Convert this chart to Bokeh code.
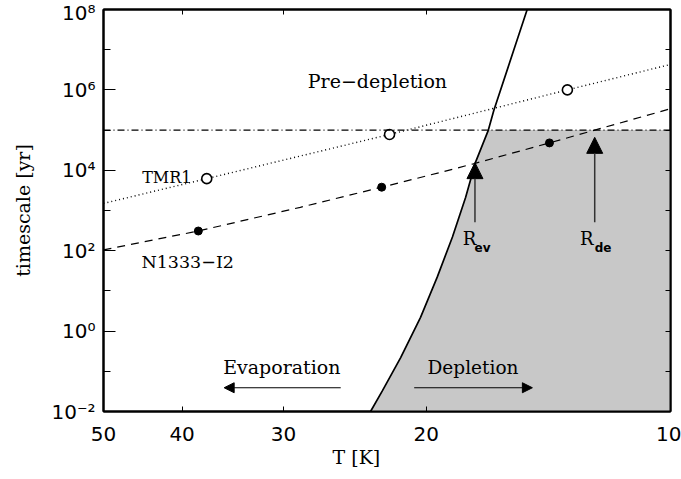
from bokeh.plotting import figure
from bokeh.models import (Range1d, FixedTicker, LogAxis, CustomJSTickFormatter, Span,
                          Arrow, NormalHead, Title)
from bokeh.core.properties import value
from bokeh.embed import file_html
from bokeh.resources import INLINE

# ---------------- data ----------------
# evaporation timescale curve (solid)
T_evap = [23.43, 22.65, 21.51, 20.33, 19.39, 18.57, 17.89, 17.39, 16.77, 16.51, 15.61, 15.02]
t_evap = [1e-2, 0.033, 0.22, 2.2, 22, 220, 2.1e3, 1.6e4, 1e5, 3.1e5, 9.5e6, 1e8]

# TMR1 (dotted line + open circles)
T_tmr1_line = [50, 37.3, 22.2, 13.4, 10]
t_tmr1_line = [1.5e3, 6.2e3, 7.8e4, 1.0e6, 4.3e6]
T_tmr1_obs = [37.3, 22.2, 13.4]
t_tmr1_obs = [6.2e3, 7.8e4, 1.0e6]

# N1333-I2 (dashed line + filled dots)
T_n1333_line = [50, 38.2, 28.6, 22.7, 19.2, 17.5, 14.1, 12.4, 10]
t_n1333_line = [105, 309, 1.2e3, 3.8e3, 8.9e3, 1.45e4, 4.8e4, 1e5, 3.4e5]
T_n1333_obs = [38.2, 22.7, 14.1]
t_n1333_obs = [309, 3.8e3, 4.8e4]

# depletion timescale limit (dash-dot)
t_depletion = 1e5

# radii markers
R_ev_T, R_ev_tip = 17.42, 1.55e4
R_de_T, R_de_tip = 12.4, 6.6e4
R_base = 5.1e2

# axes
T_min, T_max = 10, 50
t_min, t_max = 1e-2, 1e8
x_ticks = [50, 40, 30, 20, 10]
y_ticks = [1e-2, 1, 1e2, 1e4, 1e6, 1e8]
y_minor = [1e-1, 1e1, 1e3, 1e5, 1e7]

SERIF = "DejaVu Serif"
SANS = "DejaVu Sans"

p = figure(width=681, height=479, x_axis_type="log", y_axis_type="log",
           x_range=Range1d(T_max, T_min), y_range=Range1d(t_min, t_max),
           output_backend="svg", toolbar_location=None,
           min_border_left=103, min_border_right=11, min_border_top=9, min_border_bottom=68)
p.background_fill_color = "white"
p.border_fill_color = "white"
p.outline_line_color = "black"
p.outline_line_width = 2
p.xgrid.visible = False
p.ygrid.visible = False

# shaded depletion region
shade_T = [T for T, t in zip(T_evap, t_evap) if t <= t_depletion] + [T_min, T_min]
shade_t = [t for t in t_evap if t <= t_depletion] + [t_depletion, t_min]
p.patch(shade_T, shade_t, fill_color="#c8c8c8", line_color=None)

# axes styling
xfmt = CustomJSTickFormatter(code="return Math.round(tick).toString();")
yfmt = CustomJSTickFormatter(code="""
const sup = {"-":"\u207b","0":"\u2070","1":"\u00b9","2":"\u00b2","3":"\u00b3","4":"\u2074",
             "5":"\u2075","6":"\u2076","7":"\u2077","8":"\u2078","9":"\u2079"};
const e = Math.round(Math.log10(tick)).toString();
return "10" + e.split("").map(c => sup[c]).join("");
""")

xa = p.xaxis[0]
xa.ticker = FixedTicker(ticks=x_ticks, minor_ticks=[])
xa.formatter = xfmt
xa.major_tick_in = 5
xa.major_tick_out = 0
xa.minor_tick_line_color = None
xa.axis_line_width = 2
xa.major_label_standoff = 15
xa.major_label_text_font = SANS
xa.major_label_text_font_size = "20px"
xa.major_label_text_color = "black"

ya = p.yaxis[0]
ya.ticker = FixedTicker(ticks=y_ticks, minor_ticks=y_minor)
ya.formatter = yfmt
ya.major_tick_in = 12
ya.major_tick_out = 0
ya.minor_tick_in = 7
ya.minor_tick_out = 0
ya.axis_line_width = 2
ya.major_label_standoff = 8
ya.major_label_text_font = SANS
ya.major_label_text_font_size = "20px"
ya.major_label_text_color = "black"
ya.axis_label = "timescale [yr]"
ya.axis_label_text_font = SERIF
ya.axis_label_text_font_size = "19px"
ya.axis_label_text_font_style = "normal"
ya.axis_label_text_color = "black"
ya.axis_label_standoff = 14

blank = CustomJSTickFormatter(code="return '';")
top = LogAxis(ticker=FixedTicker(ticks=x_ticks, minor_ticks=[]), formatter=blank,
              major_tick_in=5, major_tick_out=0, minor_tick_line_color=None,
              major_label_text_font_size="1px", major_label_text_color=None,
              major_label_standoff=0, axis_line_width=2)
right = LogAxis(ticker=FixedTicker(ticks=y_ticks, minor_ticks=y_minor), formatter=blank,
                major_tick_in=5, major_tick_out=0, minor_tick_in=5, minor_tick_out=0,
                major_label_text_font_size="1px", major_label_text_color=None,
                major_label_standoff=0, axis_line_width=2)
p.add_layout(top, "above")
p.add_layout(right, "right")

# x-axis title (offset to the left, as in the reference)
p.add_layout(Title(text="T [K]", align="left", offset=229, standoff=0,
                   text_font=SERIF, text_font_size="19px", text_font_style="normal",
                   text_color="black"), "below")

# lines
p.line(T_evap, t_evap, line_color="black", line_width=1.7)
p.line(T_tmr1_line, t_tmr1_line, line_color="black", line_dash="1 3", line_width=1.4)
p.line(T_n1333_line, t_n1333_line, line_color="black", line_dash="8 6", line_width=1.2)
p.add_layout(Span(location=t_depletion, dimension="width", line_color="black",
                  line_dash="7 3 1 3", line_width=1.2))

# observation markers
p.scatter(T_tmr1_obs, t_tmr1_obs, marker="circle", size=10, fill_color="white",
          line_color="black", line_width=1.6)
p.scatter(T_n1333_obs, t_n1333_obs, marker="circle", size=8, fill_color="black",
          line_color="black")

# radius arrows
for Tx, tip in [(R_ev_T, R_ev_tip), (R_de_T, R_de_tip)]:
    p.add_layout(Arrow(end=NormalHead(size=16, fill_color="black", line_color="black"),
                       x_start=Tx, y_start=R_base, x_end=Tx, y_end=tip,
                       line_color="#333333", line_width=1.5))

# evaporation / depletion arrows
p.add_layout(Arrow(end=NormalHead(size=10, fill_color="black", line_color="black"),
                   x_start=25.5, y_start=0.039, x_end=35.5, y_end=0.039,
                   line_color="black", line_width=1.2))
p.add_layout(Arrow(end=NormalHead(size=10, fill_color="black", line_color="black"),
                   x_start=20.7, y_start=0.039, x_end=14.8, y_end=0.039,
                   line_color="black", line_width=1.2))

def lab(x, y, text, size="18px", font=SERIF, style="normal"):
    p.text(x=[x], y=[y], text=[text], text_font=value(font), text_font_size=size,
           text_font_style=style, text_align="left", text_baseline="alphabetic",
           text_color="black")

lab(28.0, 10**6.23, "Pre\u2212depletion", "19px")
lab(44.8, 10**3.82, "TMR1", "16px")
lab(44.9, 10**1.71, "N1333\u2212I2", "17.5px")
lab(35.6, 10**-0.905, "Evaporation", "19px")
lab(19.93, 10**-0.905, "Depletion", "18.5px")
lab(18.04, 10**2.30, "R", "18px")
lab(17.44, 10**2.055, "ev", "12px", font=SANS, style="bold")
lab(12.93, 10**2.30, "R", "18px")
lab(12.4, 10**2.055, "de", "12px", font=SANS, style="bold")

open("out.html", "w").write(file_html(p, INLINE))
